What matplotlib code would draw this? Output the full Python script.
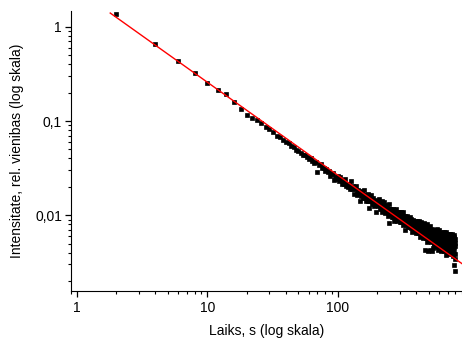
import matplotlib
matplotlib.use("Agg")
import matplotlib.pyplot as plt
import matplotlib.ticker
import numpy as np

plt.rcParams["font.family"] = ["Liberation Sans", "DejaVu Sans"]
plt.rcParams["font.size"] = 10

# Decay curve, one reading every 2 s from 2 s to 800 s.
time_s = np.arange(2, 802, 2)
intensity = np.array([
    1.36, 0.655, 0.431, 0.324, 0.256, 0.216, 0.192, 0.159, 0.133, 0.117,
    0.108, 0.102, 0.0962, 0.0857, 0.0813, 0.0759, 0.0685, 0.0681, 0.0624, 0.0605,
    0.0583, 0.0541, 0.0526, 0.0490, 0.0480, 0.0463, 0.0437, 0.0436, 0.0414, 0.0395,
    0.0403, 0.0372, 0.0355, 0.0371, 0.0291, 0.0339, 0.0346, 0.0316, 0.0317, 0.0294,
    0.0307, 0.0288, 0.0297, 0.0261, 0.0276, 0.0283, 0.0236, 0.0255, 0.0243, 0.0263,
    0.0230, 0.0256, 0.0234, 0.0213, 0.0235, 0.0216, 0.0241, 0.0205, 0.0214, 0.0200,
    0.0215, 0.0188, 0.0230, 0.0195, 0.0188, 0.0205, 0.0170, 0.0188, 0.0204, 0.0171,
    0.0162, 0.0184, 0.0173, 0.0143, 0.0173, 0.0161, 0.0181, 0.0151, 0.0163, 0.0183,
    0.0153, 0.0165, 0.0142, 0.0156, 0.0168, 0.0142, 0.0120, 0.0151, 0.0143, 0.0164,
    0.0132, 0.0148, 0.0139, 0.0154, 0.0124, 0.0138, 0.0144, 0.0128, 0.0108, 0.0134,
    0.0142, 0.0125, 0.0148, 0.0130, 0.0116, 0.0138, 0.0122, 0.0130, 0.0109, 0.0141,
    0.0120, 0.0129, 0.0112, 0.0138, 0.0119, 0.0106, 0.0126, 0.0114, 0.0128, 0.0108,
    0.0117, 0.00984, 0.0130, 0.0108, 0.0082, 0.0115, 0.0103, 0.0117, 0.0107, 0.00962,
    0.0113, 0.0103, 0.0117, 0.00963, 0.0106, 0.00864, 0.0110, 0.0101, 0.00950, 0.0116,
    0.00957, 0.0103, 0.00867, 0.0107, 0.00966, 0.00890, 0.0108, 0.00926, 0.00990, 0.00850,
    0.0101, 0.00914, 0.0108, 0.00851, 0.00935, 0.0100, 0.00860, 0.0108, 0.00893, 0.00788,
    0.00932, 0.00852, 0.00988, 0.00896, 0.00697, 0.00934, 0.00856, 0.00792, 0.00991, 0.00876,
    0.00801, 0.00916, 0.00838, 0.00741, 0.00937, 0.00858, 0.00791, 0.00969, 0.00816, 0.00744,
    0.00851, 0.00786, 0.00902, 0.00739, 0.00811, 0.00659, 0.00856, 0.00782, 0.00894, 0.00732,
    0.00817, 0.00750, 0.00842, 0.00686, 0.00782, 0.00872, 0.00716, 0.00795, 0.00744, 0.00650,
    0.00821, 0.00728, 0.00874, 0.00760, 0.00678, 0.00825, 0.00729, 0.00649, 0.00866, 0.00757,
    0.00687, 0.00790, 0.00582, 0.00720, 0.00814, 0.00660, 0.00742, 0.00849, 0.00680, 0.00745,
    0.00624, 0.00777, 0.00684, 0.00804, 0.00649, 0.00735, 0.00577, 0.00691, 0.00825, 0.00652,
    0.00736, 0.00614, 0.00430, 0.00694, 0.00777, 0.00631, 0.00709, 0.00567, 0.00736, 0.00646,
    0.00799, 0.00607, 0.00679, 0.00523, 0.00731, 0.00634, 0.00415, 0.00694, 0.00578, 0.00740,
    0.00637, 0.00552, 0.00692, 0.00602, 0.00427, 0.00771, 0.00638, 0.00562, 0.00699, 0.00604,
    0.00517, 0.00664, 0.00574, 0.00420, 0.00717, 0.00611, 0.00536, 0.00662, 0.00446, 0.00622,
    0.00563, 0.00680, 0.00513, 0.00624, 0.00573, 0.00475, 0.00700, 0.00594, 0.00529, 0.00643,
    0.00573, 0.00486, 0.00698, 0.00599, 0.00535, 0.00656, 0.00502, 0.00608, 0.00709, 0.00548,
    0.00457, 0.00620, 0.00563, 0.00663, 0.00500, 0.00583, 0.00424, 0.00641, 0.00522, 0.00597,
    0.00698, 0.00538, 0.00462, 0.00609, 0.00554, 0.00650, 0.00492, 0.00576, 0.00421, 0.00621,
    0.00527, 0.00587, 0.00466, 0.00661, 0.00546, 0.00491, 0.00596, 0.00425, 0.00552, 0.00633,
    0.00522, 0.00463, 0.00601, 0.00494, 0.00662, 0.00555, 0.00422, 0.00602, 0.00517, 0.00564,
    0.00461, 0.00633, 0.00526, 0.00427, 0.00575, 0.00491, 0.00660, 0.00533, 0.00465, 0.00382,
    0.00575, 0.00504, 0.00598, 0.00436, 0.00536, 0.00470, 0.00627, 0.00510, 0.00404, 0.00569,
    0.00484, 0.00604, 0.00521, 0.00435, 0.00634, 0.00534, 0.00462, 0.00566, 0.00383, 0.00503,
    0.00596, 0.00483, 0.00544, 0.00433, 0.00630, 0.00508, 0.00456, 0.00564, 0.00393, 0.00520,
    0.00593, 0.00484, 0.00429, 0.00541, 0.00500, 0.00625, 0.00454, 0.00399, 0.00557, 0.00482,
    0.00597, 0.00432, 0.00509, 0.00371, 0.00565, 0.00479, 0.00530, 0.00448, 0.00617, 0.00497,
    0.00399, 0.00542, 0.00293, 0.00590, 0.00340, 0.00253, 0.00504, 0.00389, 0.00558, 0.00473,
])

# Power-law fit, end points of the straight line in log-log.
fit_time = [1.8, 900]
fit_intensity = [1.40, 0.00306]

x_ticks = [1, 10, 100]
x_tick_labels = ["1", "10", "100"]
y_ticks = [1, 0.1, 0.01]
y_tick_labels = ["1", "0,1", "0,01"]

fig = plt.figure(figsize=(4.62, 3.42), dpi=100)
ax = fig.add_axes([0.1537, 0.1477, 0.8463, 0.820])

ax.plot(
    time_s,
    intensity,
    linestyle="none",
    marker="s",
    markersize=3.0,
    color="k",
    markeredgewidth=0.5,
    clip_on=False,
)
ax.plot(fit_time, fit_intensity, color="red", linewidth=1.0)

ax.set_xscale("log")
ax.set_yscale("log")
ax.set_xlim(0.9, 900)
ax.set_ylim(0.00155, 1.47)

ax.set_xticks(x_ticks)
ax.set_xticklabels(x_tick_labels)
ax.set_yticks(y_ticks)
ax.set_yticklabels(y_tick_labels)
ax.xaxis.set_minor_locator(matplotlib.ticker.LogLocator(base=10, subs=np.arange(2, 10)))
ax.yaxis.set_minor_locator(matplotlib.ticker.LogLocator(base=10, subs=np.arange(2, 10)))
ax.xaxis.set_minor_formatter(matplotlib.ticker.NullFormatter())
ax.yaxis.set_minor_formatter(matplotlib.ticker.NullFormatter())

ax.spines["top"].set_visible(False)
ax.spines["right"].set_visible(False)
ax.tick_params(which="major", direction="out", length=4.5, width=0.9, pad=2)
ax.tick_params(which="minor", direction="out", length=2.5, width=0.8)

ax.set_xlabel("Laiks, s (log skala)", labelpad=7)
ax.set_ylabel("Intensitate, rel. vienibas (log skala)", labelpad=8)

fig.savefig("out.png", dpi=100)
